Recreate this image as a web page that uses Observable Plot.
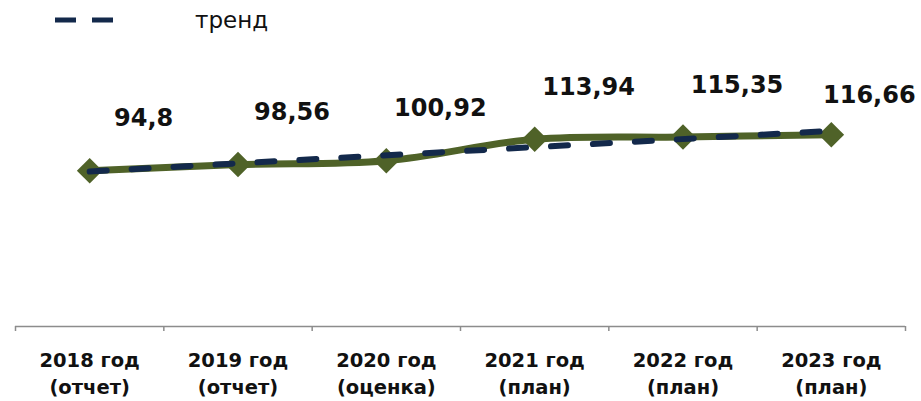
<!DOCTYPE html>
<html><head><meta charset="utf-8">
<script src="https://cdn.jsdelivr.net/npm/d3@7"></script>
<script src="https://cdn.jsdelivr.net/npm/@observablehq/plot@0.6"></script>
<style>
body{margin:0;background:#fff;font-family:"DejaVu Sans",sans-serif;}
#legend{position:relative;height:40px;width:921px;}
#legend svg{position:absolute;left:50px;top:14px;}
#legend span{position:absolute;left:195px;top:7px;font-size:23px;color:#111;}
</style></head>
<body>
<div id="legend"><svg width="70" height="12"><line x1="5" y1="6" x2="63" y2="6" stroke="#13294b" stroke-width="5" stroke-dasharray="21,16"/></svg><span>тренд</span></div>
<div id="chart"></div>
<script>
const years = ["2018 год","2019 год","2020 год","2021 год","2022 год","2023 год"];
const kinds = ["(отчет)","(отчет)","(оценка)","(план)","(план)","(план)"];
const values = [94.8, 98.56, 100.92, 113.94, 115.35, 116.66];
const labels = ["94,8","98,56","100,92","113,94","115,35","116,66"];

const data = values.map((v,i)=>({i, v, label: labels[i]}));
const idx = d3.range(years.length);
const bounds = d3.range(years.length+1).map(k=>k-0.5);
const last = years.length - 1;
const green = "#4f6228";
const navy = "#13294b";
const labelStyle = {x: "i", y: "v", text: "label", fontSize: 24, fontWeight: "bold", fill: "#111"};

const chart = Plot.plot({
  width: 921, height: 361,
  marginLeft: 15, marginRight: 16, marginTop: 56, marginBottom: 75,
  style: {fontFamily: "DejaVu Sans, sans-serif", background: "#fff"},
  x: {type: "linear", domain: [-0.5, years.length-0.5], axis: null},
  y: {domain: [0, 140], axis: null},
  marks: [
    Plot.ruleY([0], {stroke: "#8c8c8c", strokeWidth: 1.5}),
    Plot.axisX({ticks: bounds, tickSize: 5, tickFormat: () => "", label: null, stroke: "#8c8c8c", strokeWidth: 1.5}),
    Plot.axisX({ticks: idx, tickSize: 0, tickPadding: 22, label: null, tickFormat: i => years[i] + "\n" + kinds[i],
      fontSize: 19.5, fontWeight: "bold", fill: "#111", lineHeight: 1.35}),
    Plot.line(data, {x: "i", y: "v", stroke: green, strokeWidth: 7, curve: "catmull-rom"}),
    Plot.dot(data, {x: "i", y: "v", symbol: "diamond2", fill: green, stroke: "none", r: 11.5}),
    Plot.linearRegressionY(data, {x: "i", y: "v", stroke: navy, strokeWidth: 6, strokeDasharray: "17,25", strokeLinecap: "round", ci: 0}),
    Plot.text(data.filter(d => d.i !== last), {...labelStyle, dx: 54, dy: -52}),
    Plot.text(data.filter(d => d.i === last), {...labelStyle, dx: 38, dy: -40})
  ]
});
document.getElementById("chart").appendChild(chart);
</script>
</body></html>
